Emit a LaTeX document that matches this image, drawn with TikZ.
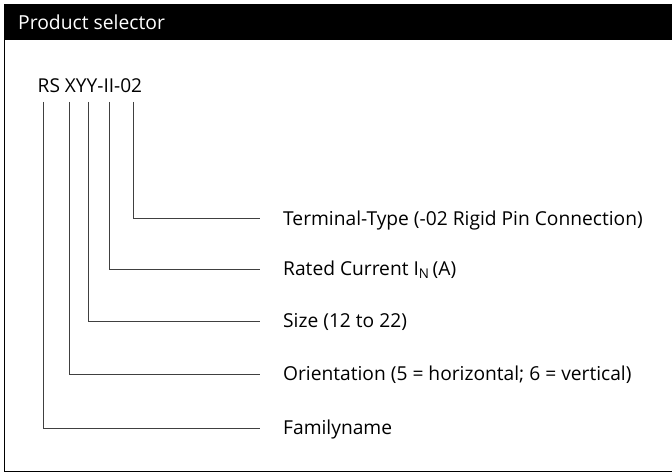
\documentclass[tikz,border=0pt]{standalone}
\usepackage{fontspec}
\setmainfont{Open Sans}
\usetikzlibrary{calc}
\begin{document}
\begin{tikzpicture}[x=1pt,y=-1pt,
  lbl/.style={anchor=base west,inner sep=0pt,font=\fontsize{19.2}{22}\selectfont},
  conn/.style={draw=black!75,line width=1pt},
  frame/.style={draw=black,line width=1.5pt}]
\useasboundingbox (0,0) rectangle (672,473);
% header
\fill[black] (4,4) rectangle (672,40);
\node[anchor=base west,inner sep=0pt,text=white,font=\fontsize{19.3}{24}\selectfont] (title) at (18,30) {Product selector};
% frame
\draw[frame] (4.5,40) -- (4.5,471.5) -- (672,471.5);
% code
\node[anchor=base west,inner sep=0pt,font=\fontsize{19.1}{22}\selectfont] (code) at (37.5,93) {RS XYY-II-02};
% connector starts
\coordinate (t1) at (43,102);
\coordinate (t2) at (69,102);
\coordinate (t3) at (88,102);
\coordinate (t4) at (109,102);
\coordinate (t5) at (133,102);
% ends
\coordinate (e5) at (260,219);
\coordinate (e4) at (260,269);
\coordinate (e3) at (260,321);
\coordinate (e2) at (260,374);
\coordinate (e1) at (260,428);
% labels
\node[lbl] (l5) at (283,225.5) {Terminal-Type (-02 Rigid Pin Connection)};
\node[lbl] (l4) at (283,275.5) {Rated Current I\textsubscript{N}\,(A)};
\node[lbl] (l3) at (283,327.5) {Size (12 to 22)};
\node[lbl] (l2) at (283,380.5) {Orientation (5 = horizontal; 6 = vertical)};
\node[lbl] (l1) at (283,434) {Familyname};
\draw[conn] (t1) |- (e1);
\draw[conn] (t2) |- (e2);
\draw[conn] (t3) |- (e3);
\draw[conn] (t4) |- (e4);
\draw[conn] (t5) |- (e5);
\end{tikzpicture}
\end{document}
